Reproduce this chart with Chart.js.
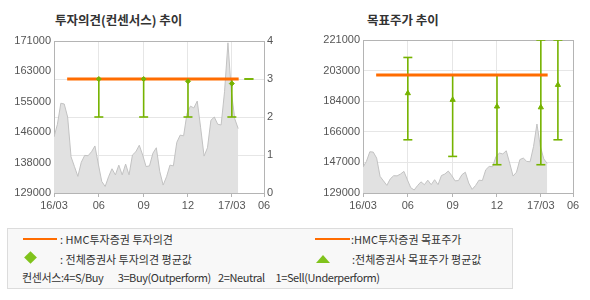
<!DOCTYPE html>
<html><head><meta charset="utf-8">
<script src="https://cdn.jsdelivr.net/npm/chart.js@4.4.1/dist/chart.umd.min.js"></script>
<style>
html,body{margin:0;padding:0;background:#fff}
body{width:590px;height:300px;position:relative;overflow:hidden;font-family:"Noto Sans CJK KR","Noto Sans",sans-serif}
.title{position:absolute;top:11px;font-size:12.5px;font-weight:bold;color:#333;line-height:18px;white-space:pre}
.wrap{position:absolute;top:0;width:295px;height:215px}
#legend{position:absolute;left:7px;top:228px;width:506px;height:61px;border:1px solid #dcdcdc;background:#f8f8f8;box-sizing:border-box}
.lt{position:absolute;font-size:11px;color:#333;line-height:14px;white-space:pre}
.oline{position:absolute;height:2px;background:#ff6c00}
</style>
</head><body>
<div id="legend"></div>
<div class="title" style="left:55px">투자의견(컨센서스) 추이</div>
<div class="title" style="left:367px">목표주가 추이</div>
<div class="wrap" style="left:0"><canvas id="c1" width="295" height="215"></canvas></div>
<div class="wrap" style="left:295px"><canvas id="c2" width="295" height="215"></canvas></div>

<div class="oline" style="left:23px;top:238px;width:34px"></div>
<div class="lt" style="left:60px;top:232px">: HMC투자증권 투자의견</div>
<div class="oline" style="left:315px;top:238px;width:35px"></div>
<div class="lt" style="left:351px;top:232px">:HMC투자증권 목표주가</div>
<div style="position:absolute;left:26px;top:253px;width:9px;height:9px;background:#80c31c;transform:rotate(45deg)"></div>
<div class="lt" style="left:60px;top:252px">: 전체증권사 투자의견 평균값</div>
<div style="position:absolute;left:316px;top:255px;width:0;height:0;border-left:7px solid transparent;border-right:7px solid transparent;border-bottom:8px solid #80c31c"></div>
<div class="lt" style="left:352px;top:252px">:전체증권사 목표주가 평균값</div>
<div class="lt" style="left:22px;top:270px;letter-spacing:-0.4px;word-spacing:1.5px">컨센서스:4=S/Buy    3=Buy(Outperform)  2=Neutral   1=Sell(Underperform)</div>

<script>
// ---------- DATA ----------
const priceDates = [
 '2016-03-01','2016-03-08','2016-03-15','2016-03-22','2016-03-29','2016-04-05','2016-04-12','2016-04-19','2016-04-26',
 '2016-05-03','2016-05-10','2016-05-17','2016-05-24','2016-05-31','2016-06-07','2016-06-14','2016-06-21','2016-06-28',
 '2016-07-05','2016-07-12','2016-07-19','2016-07-26','2016-08-02','2016-08-09','2016-08-16','2016-08-23','2016-08-30',
 '2016-09-06','2016-09-13','2016-09-20','2016-09-27','2016-10-04','2016-10-11','2016-10-18','2016-10-25','2016-11-01',
 '2016-11-08','2016-11-15','2016-11-22','2016-11-29','2016-12-06','2016-12-13','2016-12-20','2016-12-27','2017-01-03',
 '2017-01-10','2017-01-17','2017-01-24','2017-01-31','2017-02-07','2017-02-14','2017-02-21','2017-02-28','2017-03-07','2017-03-14'
];
const prices = [
 144500,148000,153800,153600,150000,139000,136300,133600,137500,
 139400,139300,140400,142000,137000,132200,130800,133500,135700,
 134000,136700,134000,137000,134000,139500,140400,142200,139500,
 136300,136500,140000,141500,135000,131200,133500,136700,136500,
 143000,145000,144800,151000,153000,152500,154400,147000,139200,
 141500,149100,150000,148000,147800,157000,170500,157000,149500,146800
];
const xTickDates  = ['2016-03-01','2016-06-01','2016-09-01','2016-12-01','2017-03-01','2017-05-06'];
const xTickLabels = ['16/03','06','09','12','17/03','06'];
const priceTickLabelsL = ['129000','138000','146000','155000','163000','171000'];
const priceTickLabelsR = ['129000','147000','166000','184000','203000','221000'];
const opinionTickLabels = ['0','1','2','3','4'];

const consensusDates = ['2016-06-01','2016-09-01','2016-12-01','2017-03-01','2017-04-05'];
const opinionHigh = [3, 3, 3, 3, 3];
const opinionLow  = [2, 2, 2, 2, 3];
const opinionAvg  = [3.0, 3.0, 2.94, 2.88, null];
const targetHigh  = [210500, 200000, 200000, 221000, 221000];
const targetLow   = [161000, 151000, 146000, 146000, 161000];
const targetAvg   = [189000, 185000, 181000, 180500, 194000];

const hmcDates   = ['2016-03-28','2017-03-15'];
const hmcOpinion = [3, 3];
const hmcTarget  = [200000, 200000];

// ---------- HELPERS ----------
const DAY0 = Date.parse('2016-03-01');
const day = s => Math.round((Date.parse(s) - DAY0) / 86400000);
const X_MIN = day(xTickDates[0]), X_MAX = day(xTickDates[xTickDates.length - 1]);

const GREEN = '#76b300', ORANGE = '#ff6c00', BORDER = '#b4b4b4', GRID = '#e6e6e6';
const TICKFONT = {family: '"Liberation Sans", Arial, sans-serif', size: 11};
const TICKCOLOR = '#555';

function errorBarPoints(dates, lows, highs) {
  const pts = [];
  dates.forEach((d, i) => {
    pts.push({x: day(d), y: lows[i]}, {x: day(d), y: highs[i]}, {x: day(d), y: null});
  });
  return pts;
}
function evenTicks(min, max, n) {
  const t = [];
  for (let i = 0; i <= n; i++) t.push({value: min + (max - min) * i / n});
  return t;
}

function xScale() {
  return {
    type: 'linear', min: X_MIN, max: X_MAX,
    afterBuildTicks: s => { s.ticks = xTickDates.map(d => ({value: day(d)})); },
    afterFit: s => { s.height = 22; },
    ticks: {font: TICKFONT, color: TICKCOLOR, padding: 2, maxRotation: 0, autoSkip: false,
            callback: (v, i) => xTickLabels[i]},
    grid: {display: true, drawTicks: true, tickLength: 4, tickColor: BORDER,
           color: c => (c.index === 0 || c.index === xTickDates.length - 1) ? BORDER : GRID},
    border: {display: true, color: BORDER}
  };
}

function baseDatasets(avgs, avgStyle, avgRadius, hmcVals, axisId) {
  return [
    {type: 'scatter', data: consensusDates.map((d, i) => ({x: day(d), y: avgs[i]})),
     yAxisID: axisId, pointStyle: avgStyle, pointRadius: avgRadius, pointBackgroundColor: GREEN,
     pointBorderColor: GREEN, pointBorderWidth: 1, showLine: false, order: 0},
    {type: 'line', data: hmcDates.map((d, i) => ({x: day(d), y: hmcVals[i]})),
     yAxisID: axisId, borderColor: ORANGE, borderWidth: 3, pointRadius: 0, order: 1},
  ];
}
function errDataset(lows, highs, axisId) {
  return {type: 'line', data: errorBarPoints(consensusDates, lows, highs), yAxisID: axisId,
    borderColor: GREEN, borderWidth: 1.6, spanGaps: false, pointStyle: 'line', pointRadius: 4.5,
    pointBorderColor: GREEN, pointBorderWidth: 1.6, order: 2};
}
function areaDataset() {
  return {type: 'line', data: priceDates.map((d, i) => ({x: day(d), y: prices[i]})), yAxisID: 'y',
    fill: 'start', backgroundColor: '#e1e1e1', borderColor: '#c2c2c2', borderWidth: 1,
    pointRadius: 0, tension: 0, order: 3};
}

const common = {
  responsive: false, animation: false,
  plugins: {legend: {display: false}, tooltip: {enabled: false}, title: {display: false}},
};

// ---------- LEFT CHART ----------
new Chart(document.getElementById('c1'), {
  type: 'line',
  data: {datasets: [
    ...baseDatasets(opinionAvg, 'rectRot', 2.5, hmcOpinion, 'y2'),
    errDataset(opinionLow, opinionHigh, 'y2'),
    areaDataset()
  ]},
  options: {...common,
    layout: {padding: {top: 41, left: 0, right: 0, bottom: 0}},
    scales: {
      x: xScale(),
      y: {position: 'left', min: 129000, max: 171000,
          afterBuildTicks: s => { s.ticks = evenTicks(129000, 171000, priceTickLabelsL.length - 1); },
          afterFit: s => { s.width = 54; },
          ticks: {font: TICKFONT, color: TICKCOLOR, padding: 3, callback: (v, i) => priceTickLabelsL[i]},
          grid: {display: false, drawTicks: false},
          border: {display: true, color: BORDER}},
      y2: {position: 'right', min: 0, max: 4,
          afterBuildTicks: s => { s.ticks = evenTicks(0, 4, opinionTickLabels.length - 1); },
          afterFit: s => { s.width = 31; },
          ticks: {font: TICKFONT, color: TICKCOLOR, padding: 3, callback: (v, i) => opinionTickLabels[i]},
          grid: {display: true, drawTicks: false,
                 color: c => (c.index === opinionTickLabels.length - 1) ? BORDER : GRID},
          border: {display: true, color: BORDER}}
    }
  }
});

// ---------- RIGHT CHART ----------
new Chart(document.getElementById('c2'), {
  type: 'line',
  data: {datasets: [
    ...baseDatasets(targetAvg, 'triangle', 3, hmcTarget, 'y'),
    errDataset(targetLow, targetHigh, 'y'),
    areaDataset()
  ]},
  options: {...common,
    layout: {padding: {top: 40, left: 0, right: 17, bottom: 0}},
    scales: {
      x: xScale(),
      y: {position: 'left', min: 129000, max: 221000,
          afterBuildTicks: s => { s.ticks = evenTicks(129000, 221000, priceTickLabelsR.length - 1); },
          afterFit: s => { s.width = 68; },
          ticks: {font: TICKFONT, color: TICKCOLOR, padding: 3, callback: (v, i) => priceTickLabelsR[i]},
          grid: {display: true, drawTicks: false,
                 color: c => (c.index === priceTickLabelsR.length - 1) ? BORDER : GRID},
          border: {display: true, color: BORDER}}
    }
  }
});
</script>
</body></html>
